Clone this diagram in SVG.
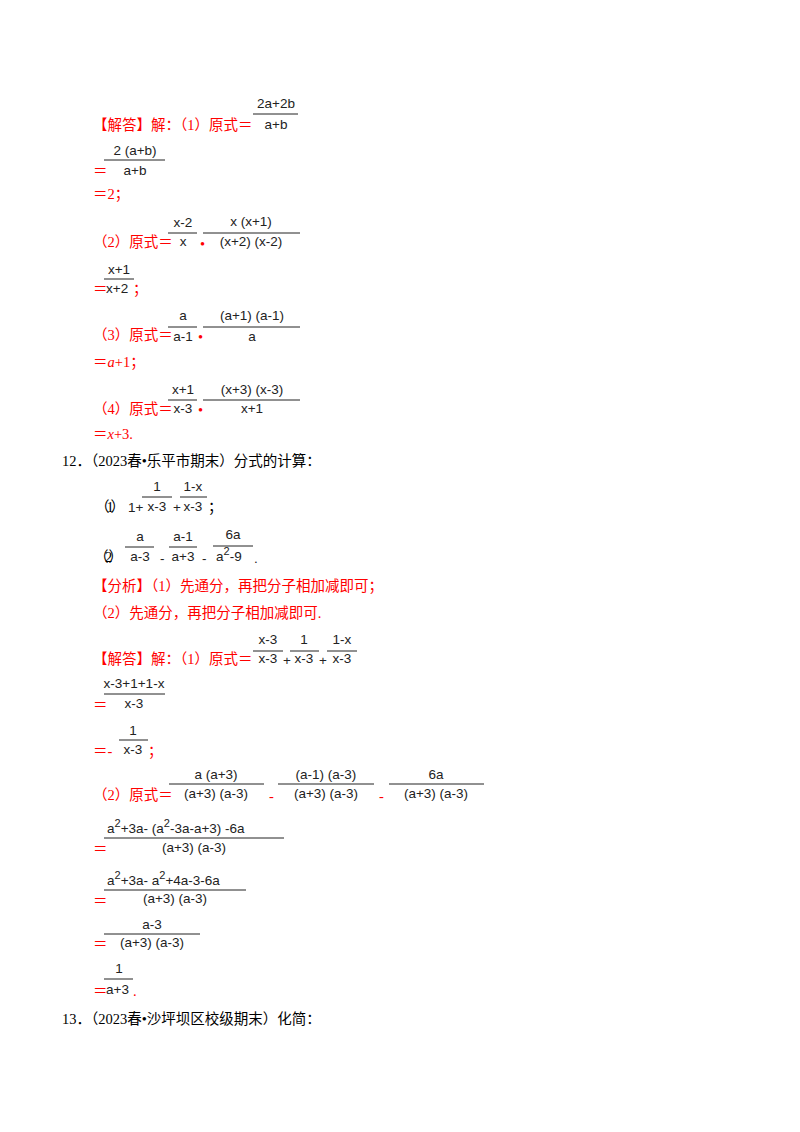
<svg xmlns="http://www.w3.org/2000/svg" width="800" height="1132" viewBox="0 0 800 1132">
<style>
text{font-family:"Liberation Serif","Noto Sans CJK SC",serif;font-size:14.5px}
.r{fill:#ff0000}
.m{font-family:"Liberation Sans","DejaVu Sans",sans-serif;font-size:13.5px;fill:#222}
.c{text-anchor:middle}
.i{font-style:italic}
line{stroke:#222;stroke-width:1}
</style>
<rect width="800" height="1132" fill="#fff"/>
<g id="s1">
<text x="93" y="130" class="r">【解答】解：（1）原式＝</text>
<text x="276" y="108" class="m c">2a+2b</text><line x1="253" y1="114" x2="298" y2="114"/><text x="276" y="129" class="m c">a+b</text>
<text x="135" y="155" class="m c">2 (a+b)</text><line x1="104" y1="160" x2="165" y2="160"/><text x="93" y="176" class="r">＝</text><text x="135" y="175" class="m c">a+b</text>
<text x="93" y="199" class="r">＝2；</text>
</g>
<g id="s2">
<text x="93" y="247" class="r">（2）原式＝</text>
<text x="183" y="227" class="m c">x-2</text><line x1="168" y1="233" x2="197" y2="233"/><text x="183" y="246" class="m c">x</text>
<text x="200" y="249" class="r" font-size="12">•</text>
<text x="251" y="226" class="m c">x (x+1)</text><line x1="203" y1="233" x2="300" y2="233"/><text x="251" y="246" class="m c">(x+2) (x-2)</text>
<text x="119" y="274" class="m c">x+1</text><line x1="104" y1="279" x2="134" y2="279"/><text x="93" y="294" class="r">＝</text><text x="106" y="293" class="m">x+2</text><text x="133" y="294" class="r" font-size="12">；</text>
</g>
<g id="s3">
<text x="93" y="340" class="r">（3）原式＝</text>
<text x="183" y="320" class="m c">a</text><line x1="168" y1="327" x2="197" y2="327"/><text x="183" y="341" class="m c">a-1</text>
<text x="198" y="342" class="r" font-size="12">•</text>
<text x="252" y="320" class="m c">(a+1) (a-1)</text><line x1="203" y1="327" x2="300" y2="327"/><text x="252" y="341" class="m c">a</text>
<text x="93" y="367" class="r">＝<tspan class="i">a</tspan>+1；</text>
</g>
<g id="s4">
<text x="93" y="414" class="r">（4）原式＝</text>
<text x="183" y="394" class="m c">x+1</text><line x1="168" y1="400" x2="197" y2="400"/><text x="183" y="413" class="m c">x-3</text>
<text x="198" y="415" class="r" font-size="12">•</text>
<text x="252" y="394" class="m c">(x+3) (x-3)</text><line x1="203" y1="400" x2="300" y2="400"/><text x="252" y="413" class="m c">x+1</text>
<text x="93" y="439" class="r">＝<tspan class="i">x</tspan>+3.</text>
</g>
<g id="q12">
<text x="62" y="466">12．（2023春•乐平市期末）分式的计算：</text>
<text x="95" y="512" textLength="30" lengthAdjust="spacing">（1）</text><text x="128" y="512" class="m" font-size="12">1+</text>
<text x="157" y="491" class="m c">1</text><line x1="142" y1="497" x2="172" y2="497"/><text x="157" y="511" class="m c">x-3</text>
<text x="173" y="512" class="m" font-size="12">+</text>
<text x="193" y="491" class="m c">1-x</text><line x1="180" y1="497" x2="207" y2="497"/><text x="193" y="511" class="m c">x-3</text>
<text x="208" y="512" font-size="12">；</text>
<text x="94" y="562" textLength="29" lengthAdjust="spacing">（2）</text>
<text x="140" y="541" class="m c">a</text><line x1="125" y1="547" x2="154" y2="547"/><text x="140" y="561" class="m c">a-3</text>
<text x="160" y="563" class="m">-</text>
<text x="183" y="541" class="m c">a-1</text><line x1="169" y1="547" x2="197" y2="547"/><text x="183" y="561" class="m c">a+3</text>
<text x="202" y="563" class="m">-</text>
<text x="233" y="539" class="m c">6a</text><line x1="213" y1="546" x2="253" y2="546"/><text x="216" y="561" class="m">a<tspan dy="-6" font-size="11">2</tspan><tspan dy="6">-9</tspan></text>
<text x="254" y="563" class="m">.</text>
<text x="93" y="591" class="r">【分析】（1）先通分，再把分子相加减即可；</text>
<text x="93" y="618" class="r">（2）先通分，再把分子相加减即可.</text>
</g>
<g id="a12-1">
<text x="93" y="664" class="r">【解答】解：（1）原式＝</text>
<text x="268" y="644" class="m c">x-3</text><line x1="253" y1="651" x2="283" y2="651"/><text x="268" y="663" class="m c">x-3</text>
<text x="283" y="665" class="m" font-size="12">+</text>
<text x="304" y="644" class="m c">1</text><line x1="290" y1="651" x2="319" y2="651"/><text x="304" y="663" class="m c">x-3</text>
<text x="319" y="665" class="m" font-size="12">+</text>
<text x="342" y="644" class="m c">1-x</text><line x1="327" y1="651" x2="357" y2="651"/><text x="342" y="663" class="m c">x-3</text>
<text x="134" y="688" class="m c">x-3+1+1-x</text><line x1="104" y1="694" x2="165" y2="694"/><text x="93" y="710" class="r">＝</text><text x="134" y="708" class="m c">x-3</text>
<text x="133" y="735" class="m c">1</text><line x1="119" y1="740" x2="148" y2="740"/><text x="93" y="756" class="r">＝-</text><text x="133" y="754" class="m c">x-3</text><text x="148" y="756" class="r" font-size="12">；</text>
</g>
<g id="a12-2">
<text x="93" y="800" class="r">（2）原式＝</text>
<text x="216" y="779" class="m c">a (a+3)</text><line x1="169" y1="784" x2="264" y2="784"/><text x="216" y="798" class="m c">(a+3) (a-3)</text>
<text x="269" y="801" class="r">-</text>
<text x="326" y="779" class="m c">(a-1) (a-3)</text><line x1="278" y1="784" x2="374" y2="784"/><text x="326" y="798" class="m c">(a+3) (a-3)</text>
<text x="379" y="801" class="r">-</text>
<text x="436" y="779" class="m c">6a</text><line x1="389" y1="784" x2="484" y2="784"/><text x="436" y="798" class="m c">(a+3) (a-3)</text>
<text x="107" y="833" class="m">a<tspan dy="-6" font-size="11">2</tspan><tspan dy="6">+3a- (a</tspan><tspan dy="-6" font-size="11">2</tspan><tspan dy="6">-3a-a+3) -6a</tspan></text>
<line x1="104" y1="838" x2="284" y2="838"/><text x="93" y="854" class="r">＝</text><text x="194" y="852" class="m c">(a+3) (a-3)</text>
<text x="107" y="885" class="m">a<tspan dy="-6" font-size="11">2</tspan><tspan dy="6">+3a- a</tspan><tspan dy="-6" font-size="11">2</tspan><tspan dy="6">+4a-3-6a</tspan></text>
<line x1="104" y1="890" x2="246" y2="890"/><text x="93" y="906" class="r">＝</text><text x="175" y="903" class="m c">(a+3) (a-3)</text>
<text x="152" y="929" class="m c">a-3</text><line x1="104" y1="934" x2="200" y2="934"/><text x="93" y="949" class="r">＝</text><text x="152" y="947" class="m c">(a+3) (a-3)</text>
<text x="119" y="973" class="m c">1</text><line x1="104" y1="979" x2="133" y2="979"/><text x="93" y="996" class="r">＝</text><text x="106" y="994" class="m">a+3</text><text x="133" y="996" class="r">.</text>
</g>
<g id="q13">
<text x="62" y="1024">13．（2023春•沙坪坝区校级期末）化简：</text>
</g>
</svg>
